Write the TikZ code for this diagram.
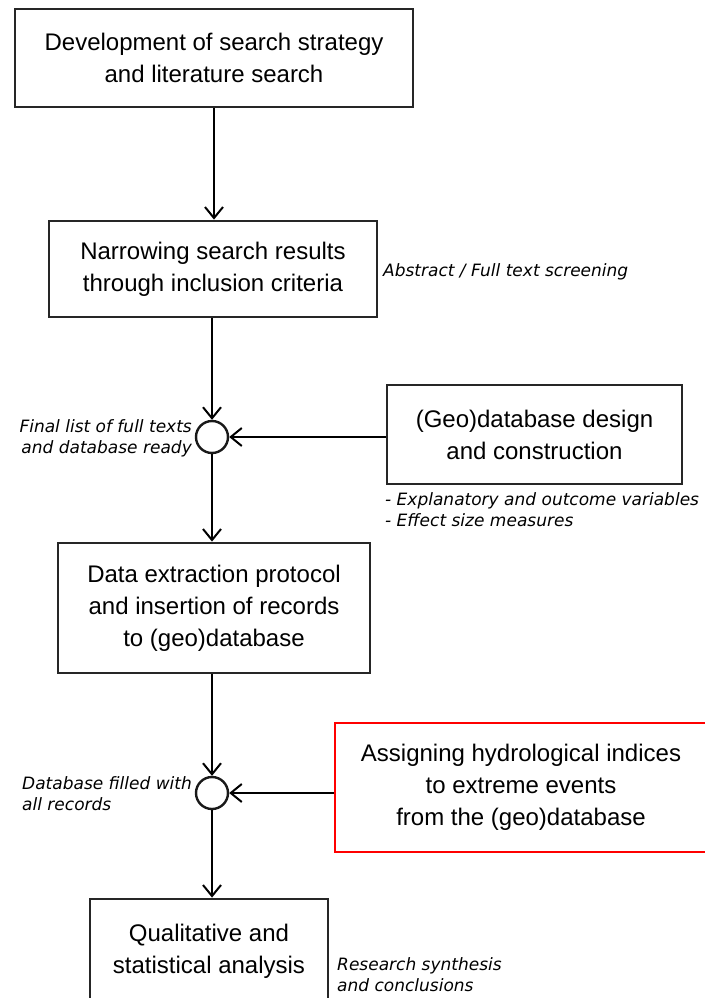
\documentclass[tikz,border=0pt]{standalone}
\usepackage{fontspec}
\setmainfont{Liberation Sans}
\newfontfamily\notefont{DejaVu Sans}
\usetikzlibrary{arrows.meta}
\begin{document}
\begin{tikzpicture}[x=1pt,y=-1pt,
  box/.style={draw=black!85,line width=2.8pt,inner sep=0pt,align=center,
    font=\fontsize{24}{32}\selectfont},
  redbox/.style={box,draw=red,line width=2.2pt},
  note/.style={inner sep=0pt,font=\notefont\itshape\fontsize{17}{21}\selectfont},
  flow/.style={line width=2pt,-{Straight Barb[length=11pt,width=18pt,line width=2pt]}},
  junction/.style={circle,draw=black!90,line width=2.4pt,minimum size=32pt,inner sep=0pt}]
\useasboundingbox (0,0) rectangle (704,998);

% process boxes
\node[box,minimum width=398pt,minimum height=98pt] (search) at (214,58)
  {Development of search strategy\\and literature search};
\node[box,minimum width=328pt,minimum height=96pt] (screen) at (213,269)
  {Narrowing search results\\through inclusion criteria};
\node[box,minimum width=295pt,minimum height=99pt] (geo) at (534.5,434.5)
  {(Geo)database design\\and construction};
\node[box,minimum width=312pt,minimum height=130pt] (extract) at (214,608)
  {Data extraction protocol\\and insertion of records\\to (geo)database};
\node[redbox,minimum width=372pt,minimum height=129pt] (hydro) at (521,787.5)
  {Assigning hydrological indices\\to extreme events\\from the (geo)database};
\node[box,minimum width=238pt,minimum height=104pt] (analysis) at (209,951)
  {Qualitative and\\statistical analysis};

% junction points
\node[junction] (j1) at (212,437) {};
\node[junction] (j2) at (212,793) {};

% side notes
\node[note,anchor=west] (absnote) at (383,272) {Abstract / Full text screening};
\node[note,anchor=east,align=right] (finalnote) at (192,438)
  {Final list of full texts\\and database ready};
\node[note,anchor=west,align=left] (geonote) at (385,510)
  {- Explanatory and outcome variables\\- Effect size measures};
\node[note,anchor=west,align=left] (dbnote) at (22,794)
  {Database filled with\\all records};
\node[note,anchor=west,align=left] (resnote) at (337,975)
  {Research synthesis\\and conclusions};

% connectors
\draw[flow] (search.south) -- (search.south |- screen.north);
\draw[flow] (screen.south -| j1) -- (j1.north);
\draw[flow] (j1 -| geo.west) -- (j1.east);
\draw[flow] (j1.south) -- (j1.south |- extract.north);
\draw[flow] (extract.south -| j2) -- (j2.north);
\draw[flow] (j2 -| hydro.west) -- (j2.east);
\draw[flow] (j2.south) -- (j2.south |- analysis.north);
\end{tikzpicture}
\end{document}
